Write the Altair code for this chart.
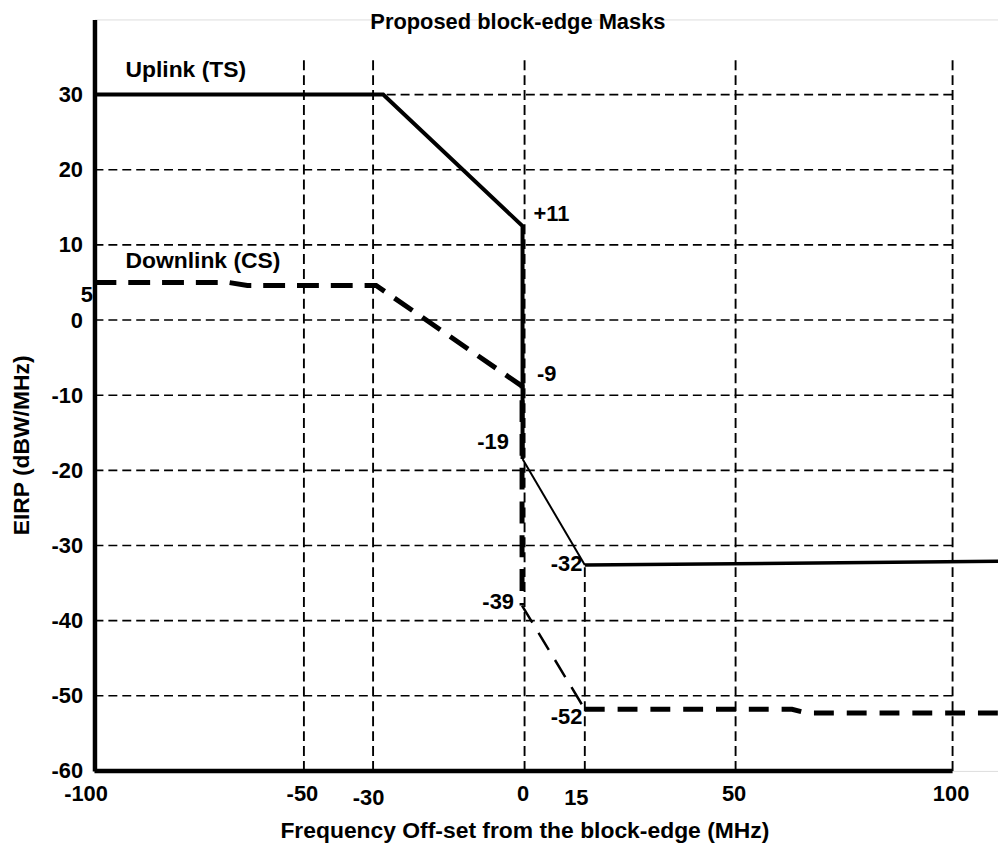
import altair as alt
import pandas as pd

FONT = "Liberation Sans"

# ---- axis ticks ----
x_ticks = [-100, -50, -30, 0, 15, 50, 100]
y_ticks = [-60, -50, -40, -30, -20, -10, 0, 10, 20, 30]

# ---- Uplink (TS): solid line, split by stroke weight (a thick, b thin, c medium) ----
up_seg = ["a", "a", "a", "a", "b", "b", "c", "c"]
up_x = [-100, -28, -0.4, -0.4, -0.4, 15, 15, 111]
up_y = [30, 30, 12.5, -18.5, -18.5, -32.6, -32.6, -32.1]

# ---- Downlink (CS): dashed line, split by stroke weight ----
dn_seg = ["a", "a", "a", "a", "a", "a", "b", "b", "c", "c", "c", "c"]
dn_x = [-100, -68, -63.5, -29.4, -0.5, -0.5, -0.5, 15, 15, 63, 66.5, 111]
dn_y = [5, 5, 4.6, 4.6, -8.8, -38, -38, -51.8, -51.8, -51.8, -52.3, -52.3]

# ---- grid lines ----
hgrid_y = [30, 20, 10, 0, -10, -20, -30, -40, -50]
vgrid_x = [-50, -30, 0, 15, 50, 100]
vgrid_top = [35, 35, 35, -32.5, 35, 35]

# ---- annotations (text, x, baseline y, alignment, size) ----
ann_text = ["Uplink (TS)", "Downlink (CS)", "+11", "-9", "-19", "-39", "-32", "-52", "5"]
ann_x = [-92.6, -92.6, 2.25, 3.1, -3.1, -2.1, 14.4, 14.4, -100.4]
ann_y = [32.4, 6.9, 13.2, -8.15, -17.2, -38.4, -33.4, -53.7, 2.4]
ann_align = ["left", "left", "left", "left", "right", "right", "right", "right", "right"]
ann_size = [23, 23, 22, 22, 22, 22, 22, 22, 22]

lines = pd.DataFrame({
    "series": ["Uplink (TS)"] * len(up_x) + ["Downlink (CS)"] * len(dn_x),
    "seg": up_seg + dn_seg,
    "x": up_x + dn_x,
    "y": up_y + dn_y,
    "order": list(range(len(up_x))) + list(range(len(dn_x))),
})
hgrid = pd.DataFrame({"y": hgrid_y, "x0": -100, "x1": 100})
vgrid = pd.DataFrame({"x": vgrid_x, "y0": -60, "y1": vgrid_top})
xaxis_line = pd.DataFrame({"x0": [-100], "x1": [100], "y": [-60]})
ann = pd.DataFrame({"text": ann_text, "x": ann_x, "y": ann_y,
                    "align": ann_align, "size": ann_size})

# piecewise x scale matching where the reference draws its ticks
xscale = alt.Scale(domain=[-100, -50, -30, 0, 15, 50, 100, 110],
                   range=[0, 210.7, 280.3, 432.7, 493.3, 645, 863.3, 907],
                   nice=False, zero=False)
yscale = alt.Scale(domain=[-60, 40], nice=False, zero=False)

xax = alt.Axis(
    values=x_ticks, domain=False, ticks=False, grid=False,
    labelExpr="toString(datum.value)",
    labelFont=FONT, labelFontWeight="bold", labelFontSize=22, labelColor="black",
    labelFlush=False, labelOverlap=False,
    labelPadding={"condition": [{"test": "datum.value == -30 || datum.value == 15", "value": 17}],
                  "value": 13},
    labelOffset={"condition": [{"test": "datum.value == -100 || datum.value == 15", "value": -9},
                               {"test": "datum.value == -30", "value": -5}],
                 "value": -2},
    title="Frequency Off-set from the block-edge (MHz)",
    titleFont=FONT, titleFontWeight="bold", titleFontSize=23, titleColor="black",
    titleX=432.5, titleY=67, titleBaseline="alphabetic", titleAlign="center",
)
yax = alt.Axis(
    values=y_ticks, domain=True, domainColor="black", domainWidth=4.5,
    ticks=False, grid=False,
    labelExpr="toString(datum.value)",
    labelFont=FONT, labelFontWeight="bold", labelFontSize=22, labelColor="black",
    labelPadding=12,
    title="EIRP (dBW/MHz)",
    titleFont=FONT, titleFontWeight="bold", titleFontSize=23, titleColor="black",
    titleX=-73, titleY=428, titleAngle=270, titleBaseline="middle", titleAlign="center",
)

X = lambda f: alt.X(f, type="quantitative", scale=xscale, axis=xax)
Y = lambda f: alt.Y(f, type="quantitative", scale=yscale, axis=yax)

hg = alt.Chart(hgrid).mark_rule(color="black", strokeWidth=1.6, strokeDash=[9, 5]).encode(
    x=X("x0"), x2="x1", y=Y("y"))
vg = alt.Chart(vgrid).mark_rule(color="black", strokeWidth=1.9, strokeDash=[10, 5]).encode(
    x=X("x"), y=Y("y0"), y2="y1")
xl = alt.Chart(xaxis_line).mark_rule(color="black", strokeWidth=4.5).encode(
    x=X("x0"), x2="x1", y=Y("y"))

styles = [
    ("Downlink (CS)", "a", dict(strokeWidth=5, strokeDash=[22, 12])),
    ("Downlink (CS)", "b", dict(strokeWidth=2.5, strokeDash=[20, 12])),
    ("Downlink (CS)", "c", dict(strokeWidth=5, strokeDash=[20, 13])),
    ("Uplink (TS)", "a", dict(strokeWidth=4)),
    ("Uplink (TS)", "b", dict(strokeWidth=2)),
    ("Uplink (TS)", "c", dict(strokeWidth=3.5)),
]
line_layers = []
for s, g, st in styles:
    line_layers.append(
        alt.Chart(lines).transform_filter(
            f"datum.series == '{s}' && datum.seg == '{g}'"
        ).mark_line(color="black", strokeCap="butt", strokeJoin="miter", **st).encode(
            x=X("x"), y=Y("y"), order="order:Q")
    )

text_layers = []
for al in ["left", "right"]:
    for sz in [22, 23]:
        text_layers.append(
            alt.Chart(ann).transform_filter(
                f"datum.align == '{al}' && datum.size == {sz}"
            ).mark_text(align=al, baseline="alphabetic", font=FONT, fontWeight="bold",
                        fontSize=sz, color="black").encode(
                x=X("x"), y=Y("y"), text="text:N")
        )

chart = alt.layer(hg, vg, xl, *line_layers, *text_layers).properties(
    width=909, height=756,
    autosize=alt.AutoSizeParams(type="none"),
    padding={"left": 87, "top": 9, "right": 0, "bottom": 72},
    title=alt.TitleParams("Proposed block-edge Masks", font=FONT, fontSize=22,
                          fontWeight="bold", color="black", anchor="middle",
                          frame="group", offset=0, dy=32, dx=-28.5, baseline="alphabetic"),
).configure_view(stroke=None).configure(background="white")

chart.save("out.html", embed_options={"renderer": "svg", "actions": False})
